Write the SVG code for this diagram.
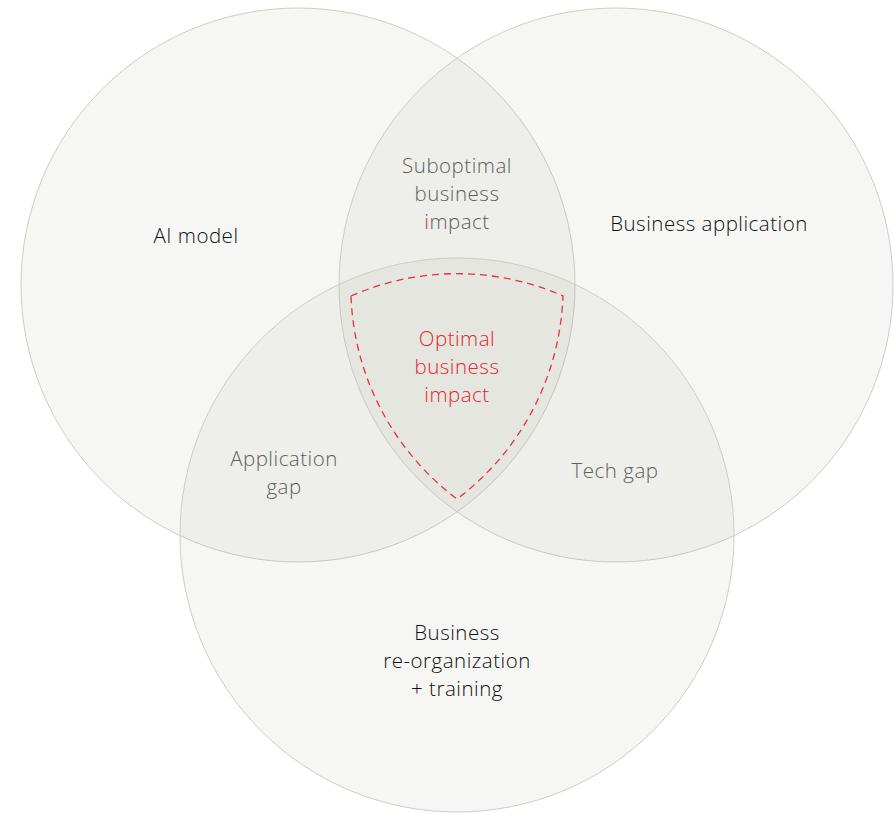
<svg xmlns="http://www.w3.org/2000/svg" width="894" height="813" viewBox="0 0 894 813">
<style>
.c{fill:#a5a591;fill-opacity:0.1;stroke:#cfcdc2;stroke-width:1}
.t{font-family:"Open Sans","Liberation Sans",sans-serif;font-weight:300;font-size:20.5px;letter-spacing:0.5px;text-anchor:middle}
.k{fill:#111111}
.g{fill:#5e5e5e}
.r{fill:#e2262f}
.d{fill:none;stroke:#e4323a;stroke-width:1.3;stroke-dasharray:7 5}
</style>
<rect width="894" height="813" fill="#ffffff"/>
<g id="ai-model">
<circle class="c" cx="298" cy="285" r="277"/>
<text class="t k" x="196" y="243">AI model</text>
</g>
<g id="business-application">
<circle class="c" cx="616" cy="285" r="277"/>
<text class="t k" x="709" y="231">Business application</text>
</g>
<g id="business-reorganization">
<circle class="c" cx="457" cy="535" r="277"/>
<text class="t k" x="457" y="640">Business</text>
<text class="t k" x="457" y="668">re-organization</text>
<text class="t k" x="457" y="696">+ training</text>
</g>
<g id="suboptimal">
<text class="t g" x="457" y="173">Suboptimal</text>
<text class="t g" x="457" y="201">business</text>
<text class="t g" x="457" y="229">impact</text>
</g>
<g id="application-gap">
<text class="t g" x="284" y="466">Application</text>
<text class="t g" x="284" y="494">gap</text>
</g>
<g id="tech-gap">
<text class="t g" x="615" y="478">Tech gap</text>
</g>
<g id="optimal">
<path class="d" d="M351 296 A263 263 0 0 1 563 296 A266 266 0 0 1 457 499 A266 266 0 0 1 351 296 Z"/>
<text class="t r" x="457" y="346">Optimal</text>
<text class="t r" x="457" y="374">business</text>
<text class="t r" x="457" y="402">impact</text>
</g>
<g id="connectors"></g>
</svg>
